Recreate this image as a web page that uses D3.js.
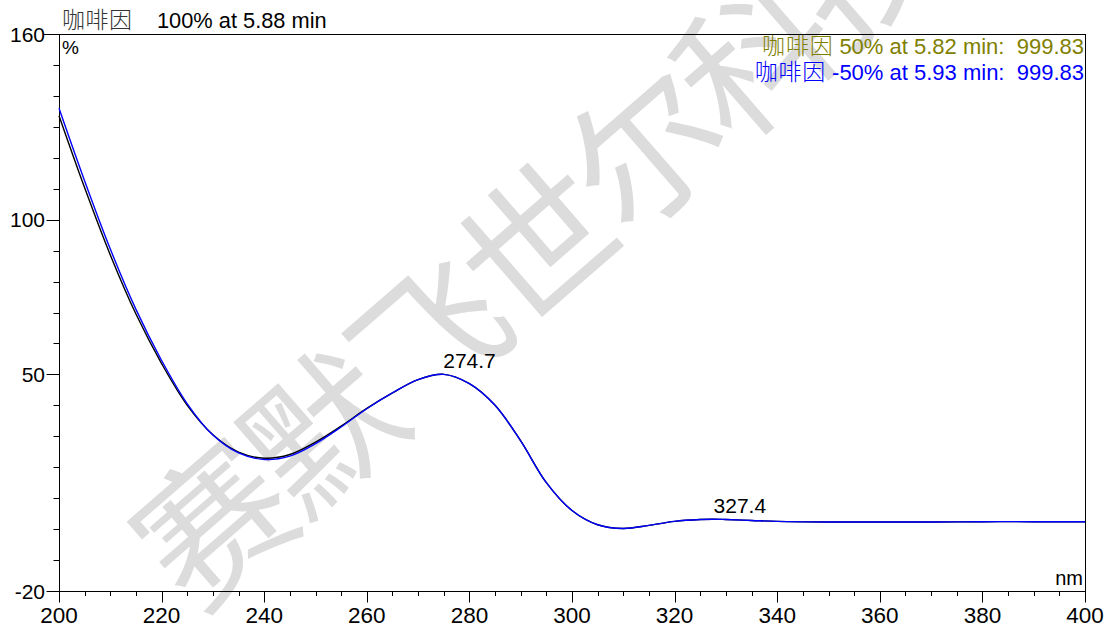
<!DOCTYPE html>
<html><head><meta charset="utf-8">
<script src="https://cdn.jsdelivr.net/npm/d3@7"></script>
<style>
html,body{margin:0;padding:0;background:#fff;}
svg{display:block;}
text{font-family:"Liberation Sans",Arial,sans-serif;}
.cjk{font-family:"Noto Sans CJK SC",sans-serif;font-weight:300;}
</style></head>
<body>
<svg id="chart" width="1111" height="632"></svg>
<script>
// ---- data ----
const wavelengths = [200,205,210,215,220,225,230,235,240,245,250,255,260,265,270,275,280,285,290,295,300,305,310,315,320,325,327.4,330,335,340,350,360,370,380,390,400];
const mainSeries  = [133.6,110.3,88.6,69.5,53.5,40,30.5,24.9,22.9,24.1,28.1,33.3,39,44,48.3,50,47,40,28.5,15,6,1.4,0.2,1.2,2.5,3.1,3.2,3.1,2.8,2.5,2.3,2.3,2.3,2.4,2.4,2.4];
const lowerSeries = [136,112.5,90.5,71,54.5,40.5,30.4,24.6,22.5,23.6,27.6,33,38.9,44,48.3,50,47,40,28.5,15,6,1.4,0.2,1.2,2.5,3.1,3.2,3.1,2.8,2.5,2.3,2.3,2.3,2.4,2.4,2.4];
const peakLabels = [{x:274.7, y:50.0, text:"274.7"},{x:327.4, y:3.2, text:"327.4"}];
const xTickLabels = [200,220,240,260,280,300,320,340,360,380,400];
const yTickLabels = [160,100,50,-20];
const compound = "咖啡因";
const titleText = "100% at 5.88 min";
const legendItems = [
  {name:"咖啡因", text:"50% at 5.82 min:\u00a0\u00a0999.83", color:"#808000"},
  {name:"咖啡因", text:"-50% at 5.93 min:\u00a0\u00a0999.83", color:"#0000ff"}
];
const watermarkChars = ["赛","默","飞","世","尔","科","技"];

// ---- layout ----
const svg = d3.select("#chart");
const L = 59, R = 1085, T = 34, B = 591;
const x = d3.scaleLinear().domain([200,400]).range([L,R]);
const y = d3.scaleLinear().domain([-20,160]).range([B,T]);

// watermark (one rotated glyph per character along a diagonal)
const wmAngle = -41, wmStep = 143, wmCx = 532, wmCy = 236;
const rad = wmAngle*Math.PI/180;
svg.append("g").selectAll("text").data(watermarkChars).join("text")
  .attr("class","cjk")
  .attr("transform",(d,i)=>{
    const k = i-3;
    return `translate(${wmCx+k*wmStep*Math.cos(rad)},${wmCy+k*wmStep*Math.sin(rad)}) rotate(${wmAngle})`;
  })
  .attr("text-anchor","middle")
  .attr("dominant-baseline","central")
  .attr("font-size",150)
  .attr("fill","#dcdcdc")
  .style("font-weight","400")
  .text(d=>d);

// frame
svg.append("rect").attr("x",L+0.5).attr("y",T+0.5).attr("width",R-L).attr("height",B-T)
  .attr("fill","none").attr("stroke","#000").attr("stroke-width",1);

// x axis ticks
const xMinor = d3.range(200,401,5);
svg.append("g").selectAll("line").data(xMinor).join("line")
  .attr("x1",d=>Math.round(x(d))+0.5).attr("x2",d=>Math.round(x(d))+0.5)
  .attr("y1",B+0.5).attr("y2",d=>B+0.5+(d%20===0?11:4.5))
  .attr("stroke","#000");
svg.append("g").selectAll("text").data(xTickLabels).join("text")
  .attr("x",d=>x(d)).attr("y",623)
  .attr("text-anchor","middle").attr("font-size",22.5)
  .text(d=>d);

// y axis ticks
const yMinor = d3.range(-20,161,10);
svg.append("g").selectAll("line").data(yMinor).join("line")
  .attr("y1",d=>Math.round(y(d))+0.5).attr("y2",d=>Math.round(y(d))+0.5)
  .attr("x1",L+0.5).attr("x2",d=>L+0.5-(yTickLabels.includes(d)?(d===160?16:13):6))
  .attr("stroke","#000");
svg.append("g").selectAll("text").data(yTickLabels).join("text")
  .attr("x",45).attr("y",d=>y(d)+7.5)
  .attr("text-anchor","end").attr("font-size",21)
  .text(d=>d);

// unit labels
svg.append("text").attr("x",62).attr("y",54).attr("font-size",19).text("%");
svg.append("text").attr("x",1083).attr("y",585).attr("text-anchor","end").attr("font-size",20).text("nm");

// title
svg.append("text").attr("class","cjk").attr("x",62).attr("y",28).attr("font-size",23)
  .attr("letter-spacing",0.5).attr("fill","#333").text(compound);
svg.append("text").attr("x",157).attr("y",28).attr("font-size",21.8).text(titleText);

// legend
legendItems.forEach((it,i)=>{
  const t = svg.append("text").attr("x",1084).attr("y",54+i*25.5)
    .attr("text-anchor","end").attr("fill",it.color).attr("font-size",22);
  t.append("tspan").attr("class","cjk").attr("font-size",23).attr("letter-spacing",0.8).text(it.name+"\u00a0");
  t.append("tspan").text(it.text);
});

// curves
const line = d3.line().x((d,i)=>x(wavelengths[i])).y(d=>y(d)).curve(d3.curveCatmullRom.alpha(0.5));
svg.append("path").datum(mainSeries).attr("d",line).attr("fill","none").attr("stroke","#000").attr("stroke-width",1.4);
svg.append("path").datum(lowerSeries).attr("d",line).attr("fill","none").attr("stroke","#0000ff").attr("stroke-width",1.4);

// peak labels
svg.append("g").selectAll("text").data(peakLabels).join("text")
  .attr("x",d=>x(d.x)+1).attr("y",d=>y(d.y)-6)
  .attr("font-size",21).text(d=>d.text);
</script>
</body></html>
